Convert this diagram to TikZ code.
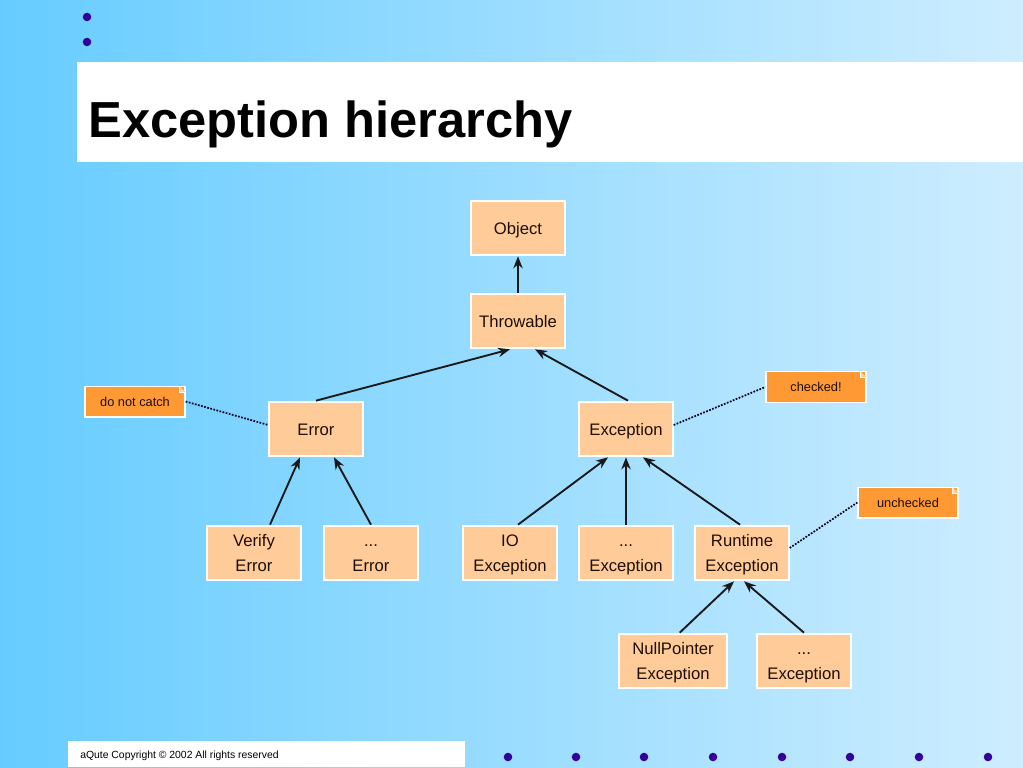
\documentclass[tikz,border=0pt]{standalone}
\usepackage{fontspec}
\setmainfont{Liberation Sans}
\usetikzlibrary{arrows.meta}
\definecolor{bgL}{RGB}{102,204,255}
\definecolor{bgR}{RGB}{206,237,255}
\definecolor{peach}{RGB}{255,204,153}
\definecolor{notec}{RGB}{255,153,51}
\definecolor{dotc}{RGB}{51,0,153}
\definecolor{txt}{RGB}{30,15,5}
\newcommand\topx{\rule{0pt}{13pt}}
\newcommand\botx{\rule[-4pt]{0pt}{4pt}}
\begin{document}
\begin{tikzpicture}[x=0.75pt,y=-0.75pt,
  cls/.style={draw=white, line width=1.5pt, fill=peach, minimum width=70pt, minimum height=41pt,
    align=center, inner sep=2pt, text=txt, font=\fontsize{12.5}{18.75}\selectfont},
  notebox/.style={fill=notec, draw=white, line width=1pt, minimum width=75pt, minimum height=23pt,
    inner sep=1pt, text=txt, font=\fontsize{9.6}{11}\selectfont},
  arr/.style={-{Stealth[length=9pt,width=7pt]}, line width=1.4pt, draw=black!90},
  dots/.style={line width=1.3pt, dash pattern=on 1.3pt off 1.1pt, draw=black!85!blue},
  bullet/.style={fill=dotc}]
\useasboundingbox (0,0) rectangle (1023,767);
\shade[left color=bgL,right color=bgR] (0,0) rectangle (1023,767);
% bullets
\fill[bullet] (87,17) circle (3.2pt);
\fill[bullet] (87,42) circle (3.2pt);
\foreach \x in {508,576,644,713,782,850,919,988} \fill[bullet] (\x,757) circle (3.2pt);
% title bar
\fill[white] (77,62) rectangle (1023,162);
\node[anchor=base west, inner sep=0, font=\fontsize{38}{44}\selectfont\bfseries] (title) at (88,137) {Exception hierarchy};
% footer
\fill[white] (68,741) rectangle (465,767);
\node[anchor=base west, inner sep=0, font=\fontsize{7.8}{9}\selectfont] (foot) at (80,758) {aQute Copyright © 2002 All rights reserved};
% classes
\node[cls] (obj) at (518,228) {\topx Object\botx};
\node[cls] (thr) at (518,321) {\topx Throwable\botx};
\node[cls] (err) at (316,429) {\topx Error\botx};
\node[cls] (exc) at (626,429) {\topx Exception\botx};
\node[cls] (ver) at (254,553) {\topx Verify\\Error\botx};
\node[cls] (oerr) at (371,553) {\topx ...\\Error\botx};
\node[cls] (io) at (510,553) {\topx IO\\Exception\botx};
\node[cls] (oexc) at (626,553) {\topx ...\\Exception\botx};
\node[cls] (rt) at (742,553) {\topx Runtime\\Exception\botx};
\node[cls, minimum width=81pt] (np) at (673,661) {\topx NullPointer\\Exception\botx};
\node[cls] (oexc2) at (804,661) {\topx ...\\Exception\botx};
% notes
\node[notebox] (dnc) at (135,401.5) {do not catch};
\node[notebox] (chk) at (816,387) {checked!};
\node[notebox] (unc) at (908,502.5) {unchecked};
\foreach \n in {dnc,chk,unc}{
  \fill[notec!45!white] ([xshift=-5pt]\n.north east) -- ([yshift=-5pt]\n.north east) -- ([xshift=-5pt,yshift=-5pt]\n.north east) -- cycle;
  \draw[white, line width=0.6pt] ([xshift=-5pt]\n.north east) -- ([xshift=-5pt,yshift=-5pt]\n.north east) -- ([yshift=-5pt]\n.north east);
}
% arrows
\draw[arr] (thr.north) -- (obj.south);
\draw[arr] (err.north) -- ([xshift=-6pt]thr.south);
\draw[arr] ([xshift=1.5pt]exc.north) -- ([xshift=12.75pt]thr.south);
\draw[arr] ([xshift=12pt]ver.north) -- ([xshift=-12pt]err.south);
\draw[arr] (oerr.north) -- ([xshift=13.5pt]err.south);
\draw[arr] ([xshift=6pt]io.north) -- ([xshift=-13.5pt]exc.south);
\draw[arr] (oexc.north) -- (exc.south);
\draw[arr] ([xshift=-1.5pt]rt.north) -- ([xshift=12.75pt]exc.south);
\draw[arr] ([xshift=5pt]np.north) -- ([xshift=-6pt]rt.south);
\draw[arr] (oexc2.north) -- ([xshift=1.5pt]rt.south);
% dotted note links
\draw[dots] (dnc.east) -- ([yshift=3pt]err.west);
\draw[dots] ([yshift=3pt]exc.east) -- (chk.west);
\draw[dots] ([yshift=3.75pt]rt.east) -- (unc.west);
\end{tikzpicture}
\end{document}
